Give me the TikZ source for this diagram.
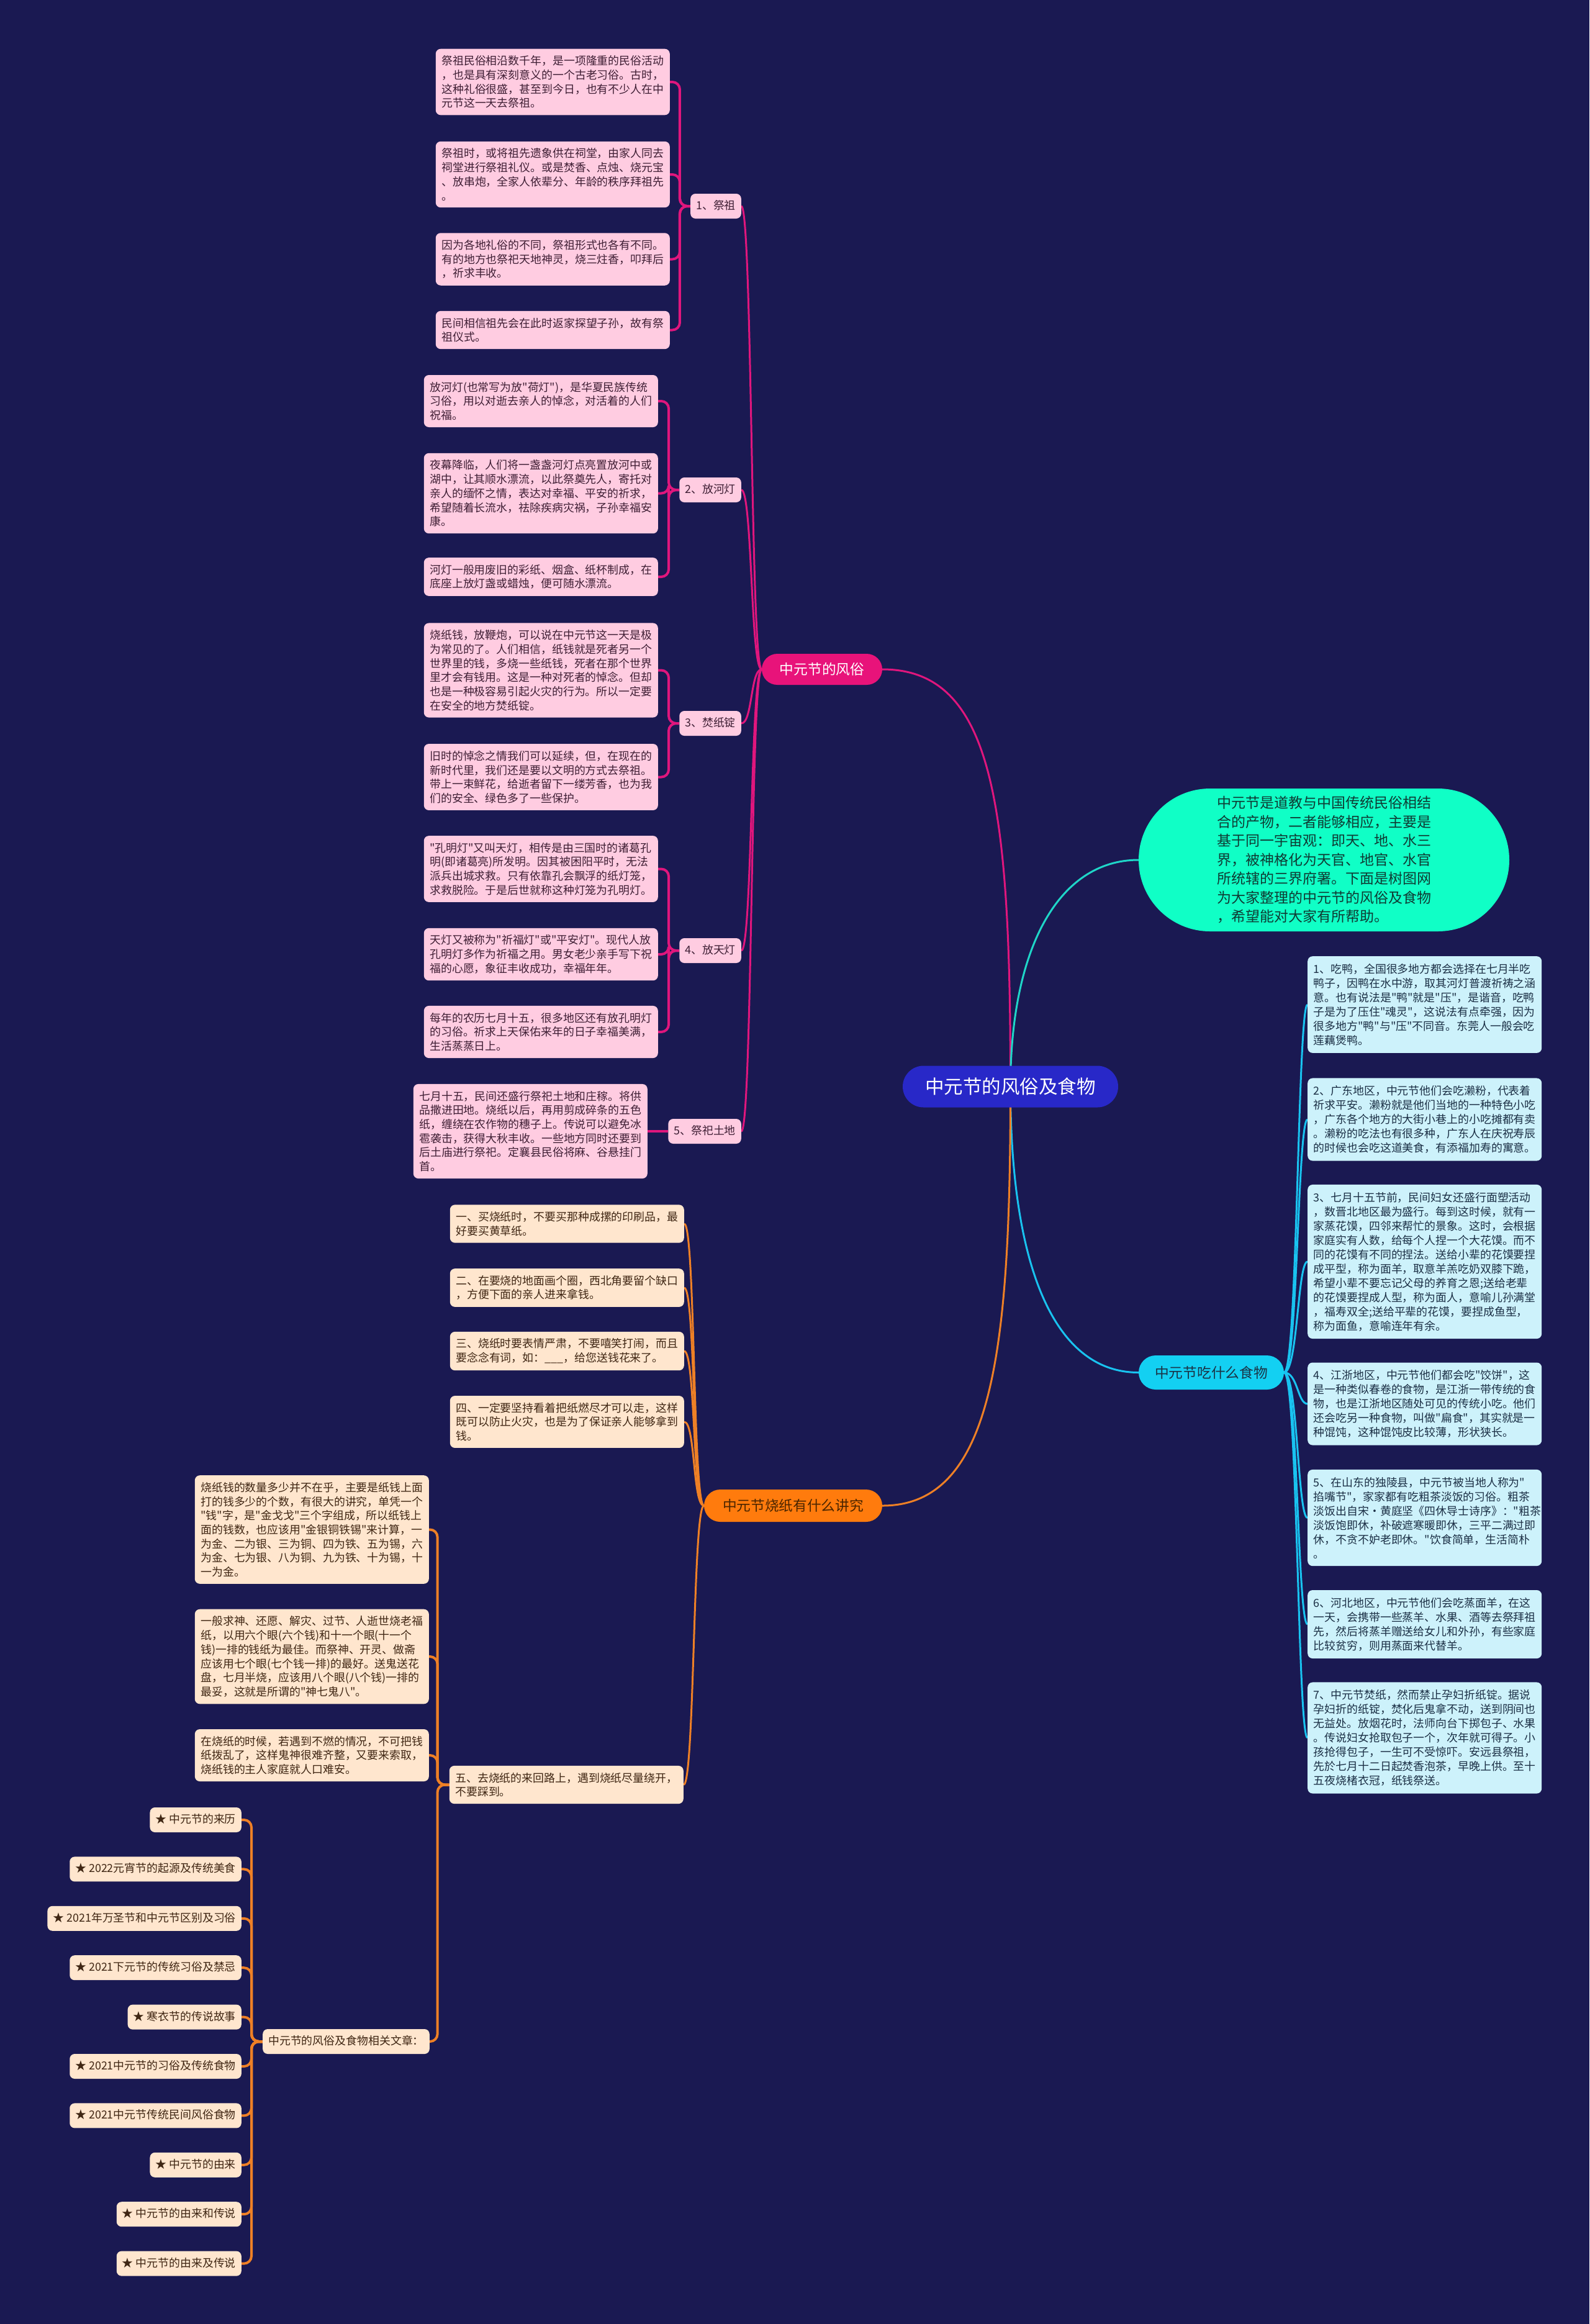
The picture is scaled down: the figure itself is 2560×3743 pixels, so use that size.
\documentclass[tikz,border=0pt]{standalone}
\usepackage{fontspec}
\newfontfamily\cjk{Noto Sans CJK SC}
\usetikzlibrary{backgrounds}
\definecolor{bgc}{HTML}{1A1952}
\definecolor{rootc}{HTML}{2828C8}
\definecolor{pinkmain}{HTML}{E8137A}
\definecolor{pinkline}{HTML}{E0167D}
\definecolor{pinkbox}{HTML}{FFCCE1}
\definecolor{pinktxt}{HTML}{3E1E34}
\definecolor{tealc}{HTML}{10FFC6}
\definecolor{tealline}{HTML}{1FD6C8}
\definecolor{tealtxt}{HTML}{0F3A33}
\definecolor{cyanc}{HTML}{13D0F2}
\definecolor{cyanline}{HTML}{19C3F0}
\definecolor{cyantxt}{HTML}{1B3346}
\definecolor{foodbox}{HTML}{CDF2FB}
\definecolor{foodtxt}{HTML}{1B2F45}
\definecolor{orangec}{HTML}{FF7B0D}
\definecolor{orangeline}{HTML}{EE8026}
\definecolor{orangetxt}{HTML}{4A2500}
\definecolor{peach}{HTML}{FFE6CE}
\definecolor{peachtxt}{HTML}{3F2613}
\newcommand\fsA{\cjk\fontsize{17.9pt}{22.7pt}\selectfont}
\newcommand\fsF{\cjk\fontsize{17.9pt}{23pt}\selectfont}
\newcommand\fsM{\cjk\fontsize{22.7pt}{27pt}\selectfont}
\newcommand\fsT{\cjk\fontsize{23pt}{30.5pt}\selectfont}
\newcommand\fsR{\cjk\fontsize{30.5pt}{36pt}\selectfont}
\tikzset{
  boxbase/.style={rounded corners=8pt, inner xsep=9.5pt, inner ysep=11pt, text width=358pt, align=left, font=\fsA},
  pbox/.style={boxbase, fill=pinkbox, text=pinktxt, anchor=east},
  obox/.style={boxbase, fill=peach, text=peachtxt, anchor=east},
  fbox/.style={boxbase, fill=foodbox, text=foodtxt, anchor=west, font=\fsF, inner ysep=12pt},
  lab/.style={rounded corners=8pt, inner xsep=9pt, inner ysep=11pt, text height=14.5pt, text depth=3.5pt, font=\fsA, anchor=east},
  plab/.style={lab, fill=pinkbox, text=pinktxt},
  olab/.style={lab, fill=peach, text=peachtxt},
  rootn/.style={fill=rootc, text=white, rounded corners=33.5pt, minimum width=347pt, minimum height=67pt, inner sep=0pt, font=\fsR},
  pkmain/.style={fill=pinkmain, text=white, rounded corners=25pt, minimum width=194pt, minimum height=50pt, inner sep=0pt, font=\fsM},
  cymain/.style={fill=cyanc, text=cyantxt, rounded corners=27.5pt, minimum width=234pt, minimum height=55pt, inner sep=0pt, font=\fsM},
  ormain/.style={fill=orangec, text=orangetxt, rounded corners=26pt, minimum width=287pt, minimum height=52pt, inner sep=0pt, font=\fsM},
  tealn/.style={fill=tealc, text=tealtxt, rounded corners=115pt, minimum width=597pt, minimum height=230pt, inner sep=0pt, text width=345pt, align=left, font=\fsT},
  pline/.style={draw=pinkline, line width=3pt},
  pbr/.style={draw=pinkline, line width=4pt, rounded corners=12pt},
  oline/.style={draw=orangeline, line width=3pt},
  obr/.style={draw=orangeline, line width=4pt, rounded corners=12pt},
  tline/.style={draw=tealline, line width=3pt},
  cline/.style={draw=cyanline, line width=3pt},
}
\begin{document}
\begin{tikzpicture}[x=1pt,y=-1pt]
\begin{pgfonlayer}{background}
\fill[bgc] (0,0) rectangle (2560,3743);
\end{pgfonlayer}
\useasboundingbox (0,0) rectangle (2560,3743);

% root and main branches
\node[rootn] (c) at (1627.5,1750) {中元节的风俗及食物};
\node[pkmain] (pk) at (1324,1078) {中元节的风俗};
\node[tealn] (tl) at (2132.5,1385) {中元节是道教与中国传统民俗相结\\合的产物，二者能够相应，主要是\\基于同一宇宙观：即天、地、水三\\界，被神格化为天官、地官、水官\\所统辖的三界府署。下面是树图网\\为大家整理的中元节的风俗及食物\\，希望能对大家有所帮助。};
\node[cymain] (cy) at (1951,2210.5) {中元节吃什么食物};
\node[ormain] (om) at (1277.5,2425) {中元节烧纸有什么讲究};

% pink labels
\node[plab] (l1) at (1194,332) {1、祭祖};
\node[plab] (l2) at (1194,789) {2、放河灯};
\node[plab] (l3) at (1194,1165) {3、焚纸锭};
\node[plab] (l4) at (1194,1531) {4、放天灯};
\node[plab] (l5) at (1194,1822) {5、祭祀土地};

% pink boxes
\node[pbox] (a1) at (1079,132) {祭祖民俗相沿数千年，是一项隆重的民俗活动\\，也是具有深刻意义的一个古老习俗。古时，\\这种礼俗很盛，甚至到今日，也有不少人在中\\元节这一天去祭祖。};
\node[pbox] (a2) at (1079,281) {祭祖时，或将祖先遗象供在祠堂，由家人同去\\祠堂进行祭祖礼仪。或是焚香、点烛、烧元宝\\、放串炮，全家人依辈分、年龄的秩序拜祖先\\。};
\node[pbox] (a3) at (1079,417.5) {因为各地礼俗的不同，祭祖形式也各有不同。\\有的地方也祭祀天地神灵，烧三炷香，叩拜后\\，祈求丰收。};
\node[pbox] (a4) at (1079,531.5) {民间相信祖先会在此时返家探望子孙，故有祭\\祖仪式。};

\node[pbox] (b1) at (1060,646) {放河灯(也常写为放"荷灯")，是华夏民族传统\\习俗，用以对逝去亲人的悼念，对活着的人们\\祝福。};
\node[pbox] (b2) at (1060,794.5) {夜幕降临，人们将一盏盏河灯点亮置放河中或\\湖中，让其顺水漂流，以此祭奠先人，寄托对\\亲人的缅怀之情，表达对幸福、平安的祈求，\\希望随着长流水，祛除疾病灾祸，子孙幸福安\\康。};
\node[pbox] (b3) at (1060,929) {河灯一般用废旧的彩纸、烟盒、纸杯制成，在\\底座上放灯盏或蜡烛，便可随水漂流。};

\node[pbox] (c1) at (1060,1079.5) {烧纸钱，放鞭炮，可以说在中元节这一天是极\\为常见的了。人们相信，纸钱就是死者另一个\\世界里的钱，多烧一些纸钱，死者在那个世界\\里才会有钱用。这是一种对死者的悼念。但却\\也是一种极容易引起火灾的行为。所以一定要\\在安全的地方焚纸锭。};
\node[pbox] (c2) at (1060,1251.5) {旧时的悼念之情我们可以延续，但，在现在的\\新时代里，我们还是要以文明的方式去祭祖。\\带上一束鲜花，给逝者留下一缕芳香，也为我\\们的安全、绿色多了一些保护。};

\node[pbox] (d1) at (1060,1399.5) {"孔明灯"又叫天灯，相传是由三国时的诸葛孔\\明(即诸葛亮)所发明。因其被困阳平时，无法\\派兵出城求救。只有依靠孔会飘浮的纸灯笼，\\求救脱险。于是后世就称这种灯笼为孔明灯。};
\node[pbox] (d2) at (1060,1537) {天灯又被称为"祈福灯"或"平安灯"。现代人放\\孔明灯多作为祈福之用。男女老少亲手写下祝\\福的心愿，象征丰收成功，幸福年年。};
\node[pbox] (d3) at (1060,1662) {每年的农历七月十五，很多地区还有放孔明灯\\的习俗。祈求上天保佑来年的日子幸福美满，\\生活蒸蒸日上。};

\node[pbox] (e1) at (1043,1822) {七月十五，民间还盛行祭祀土地和庄稼。将供\\品撒进田地。烧纸以后，再用剪成碎条的五色\\纸，缠绕在农作物的穗子上。传说可以避免冰\\雹袭击，获得大秋丰收。一些地方同时还要到\\后土庙进行祭祀。定襄县民俗将麻、谷悬挂门\\首。};

% orange boxes
\node[obox] (o1) at (1102,1971) {一、买烧纸时，不要买那种成摞的印刷品，最\\好要买黄草纸。};
\node[obox] (o2) at (1102,2074) {二、在要烧的地面画个圈，西北角要留个缺口\\，方便下面的亲人进来拿钱。};
\node[obox] (o3) at (1102,2176) {三、烧纸时要表情严肃，不要嘻笑打闹，而且\\要念念有词，如：\_\_\_，给您送钱花来了。};
\node[obox] (o4) at (1102,2290) {四、一定要坚持看着把纸燃尽才可以走，这样\\既可以防止火灾，也是为了保证亲人能够拿到\\钱。};
\node[obox] (o5) at (1101,2874.5) {五、去烧纸的来回路上，遇到烧纸尽量绕开，\\不要踩到。};

\node[obox] (r1) at (691,2463.5) {烧纸钱的数量多少并不在乎，主要是纸钱上面\\打的钱多少的个数，有很大的讲究，单凭一个\\"钱"字，是"金戈戈"三个字组成，所以纸钱上\\面的钱数，也应该用"金银铜铁锡"来计算，一\\为金、二为银、三为铜、四为铁、五为锡，六\\为金、七为银、八为铜、九为铁、十为锡，十\\一为金。};
\node[obox] (r2) at (691,2668) {一般求神、还愿、解灾、过节、人逝世烧老福\\纸，以用六个眼(六个钱)和十一个眼(十一个\\钱)一排的钱纸为最佳。而祭神、开灵、做斋\\应该用七个眼(七个钱一排)的最好。送鬼送花\\盘，七月半烧，应该用八个眼(八个钱)一排的\\最妥，这就是所谓的"神七鬼八"。};
\node[obox] (r3) at (691,2827) {在烧纸的时候，若遇到不燃的情况，不可把钱\\纸拨乱了，这样鬼神很难齐整，又要来索取，\\烧纸钱的主人家庭就人口难安。};
\node[olab] (rel) at (692,3288) {中元节的风俗及食物相关文章：};

\node[olab] (s1) at (389,2931) {★ 中元节的来历};
\node[olab] (s2) at (389,3010.4) {★ 2022元宵节的起源及传统美食};
\node[olab] (s3) at (389,3089.8) {★ 2021年万圣节和中元节区别及习俗};
\node[olab] (s4) at (389,3169.2) {★ 2021下元节的传统习俗及禁忌};
\node[olab] (s5) at (389,3248.6) {★ 寒衣节的传说故事};
\node[olab] (s6) at (389,3328) {★ 2021中元节的习俗及传统食物};
\node[olab] (s7) at (389,3407.4) {★ 2021中元节传统民间风俗食物};
\node[olab] (s8) at (389,3486.8) {★ 中元节的由来};
\node[olab] (s9) at (389,3566.2) {★ 中元节的由来和传说};
\node[olab] (s10) at (389,3645.6) {★ 中元节的由来及传说};

% food boxes
\node[fbox] (f1) at (2106,1618) {1、吃鸭，全国很多地方都会选择在七月半吃\\鸭子，因鸭在水中游，取其河灯普渡祈祷之涵\\意。也有说法是"鸭"就是"压"，是谐音，吃鸭\\子是为了压住"魂灵"，这说法有点牵强，因为\\很多地方"鸭"与"压"不同音。东莞人一般会吃\\莲藕煲鸭。};
\node[fbox] (f2) at (2106,1803) {2、广东地区，中元节他们会吃濑粉，代表着\\祈求平安。濑粉就是他们当地的一种特色小吃\\，广东各个地方的大街小巷上的小吃摊都有卖\\。濑粉的吃法也有很多种，广东人在庆祝寿辰\\的时候也会吃这道美食，有添福加寿的寓意。};
\node[fbox] (f3) at (2106,2032) {3、七月十五节前，民间妇女还盛行面塑活动\\，数晋北地区最为盛行。每到这时候，就有一\\家蒸花馍，四邻来帮忙的景象。这时，会根据\\家庭实有人数，给每个人捏一个大花馍。而不\\同的花馍有不同的捏法。送给小辈的花馍要捏\\成平型，称为面羊，取意羊羔吃奶双膝下跪，\\希望小辈不要忘记父母的养育之恩;送给老辈\\的花馍要捏成人型，称为面人，意喻儿孙满堂\\，福寿双全;送给平辈的花馍，要捏成鱼型，\\称为面鱼，意喻连年有余。};
\node[fbox] (f4) at (2106,2261) {4、江浙地区，中元节他们都会吃"饺饼"，这\\是一种类似春卷的食物，是江浙一带传统的食\\物，也是江浙地区随处可见的传统小吃。他们\\还会吃另一种食物，叫做"扁食"，其实就是一\\种馄饨，这种馄饨皮比较薄，形状狭长。};
\node[fbox] (f5) at (2106,2444.5) {5、在山东的独陵县，中元节被当地人称为"\\掐嘴节"，家家都有吃粗茶淡饭的习俗。粗茶\\淡饭出自宋·黄庭坚《四休导士诗序》："粗茶\\淡饭饱即休，补破遮寒暖即休，三平二满过即\\休，不贪不妒老即休。"饮食简单，生活简朴\\。};
\node[fbox] (f6) at (2106,2616) {6、河北地区，中元节他们会吃蒸面羊，在这\\一天，会携带一些蒸羊、水果、酒等去祭拜祖\\先，然后将蒸羊赠送给女儿和外孙，有些家庭\\比较贫穷，则用蒸面来代替羊。};
\node[fbox] (f7) at (2106,2799) {7、中元节焚纸，然而禁止孕妇折纸锭。据说\\孕妇折的纸锭，焚化后鬼拿不动，送到阴间也\\无益处。放烟花时，法师向台下掷包子、水果\\。传说妇女抢取包子一个，次年就可得子。小\\孩抢得包子，一生可不受惊吓。安远县祭祖，\\先於七月十二日起焚香泡茶，早晚上供。至十\\五夜烧楮衣冠，纸钱祭送。};

\begin{pgfonlayer}{background}
% root connectors
\draw[pline] (c.center) to[out=90,in=0,out distance=450pt,in distance=180pt] (pk.east);
\draw[tline] (c.center) to[out=90,in=180,out distance=220pt,in distance=130pt] (tl.west);
\draw[cline] (c.center) to[out=-90,in=180,out distance=280pt,in distance=140pt] (cy.west);
\draw[oline] (c.center) to[out=-90,in=0,out distance=420pt,in distance=180pt] (om.east);
% pink main to labels
\foreach \l in {l1,l2,l3,l4,l5}
  \draw[pline] (pk.west) to[out=180,in=0,out distance=18pt,in distance=18pt] (\l.east);
% brackets
\foreach \b in {a1,a2,a3,a4}
  \draw[pbr] (\b.east) -| ([xshift=-17pt]l1.west) -- (l1.west);
\foreach \b in {b1,b2,b3}
  \draw[pbr] (\b.east) -| ([xshift=-17pt]l2.west) -- (l2.west);
\foreach \b in {c1,c2}
  \draw[pbr] (\b.east) -| ([xshift=-17pt]l3.west) -- (l3.west);
\foreach \b in {d1,d2,d3}
  \draw[pbr] (\b.east) -| ([xshift=-17pt]l4.west) -- (l4.west);
\draw[pbr] (e1.east) -- (l5.west);
% orange
\foreach \b in {o1,o2,o3,o4,o5}
  \draw[oline] (om.west) to[out=180,in=0,out distance=18pt,in distance=18pt] (\b.east);
\foreach \b in {r1,r2,r3,rel}
  \draw[obr] (\b.east) -| ([xshift=-19pt]o5.west) -- (o5.west);
\foreach \b in {s1,s2,s3,s4,s5,s6,s7,s8,s9,s10}
  \draw[obr] (\b.east) -| ([xshift=-18pt]rel.west) -- (rel.west);
% food
\foreach \f in {f1,f2,f3,f4,f5,f6,f7}
  \draw[cline] (cy.east) to[out=0,in=180,out distance=22pt,in distance=16pt] (\f.west);
\end{pgfonlayer}
\end{tikzpicture}
\end{document}
